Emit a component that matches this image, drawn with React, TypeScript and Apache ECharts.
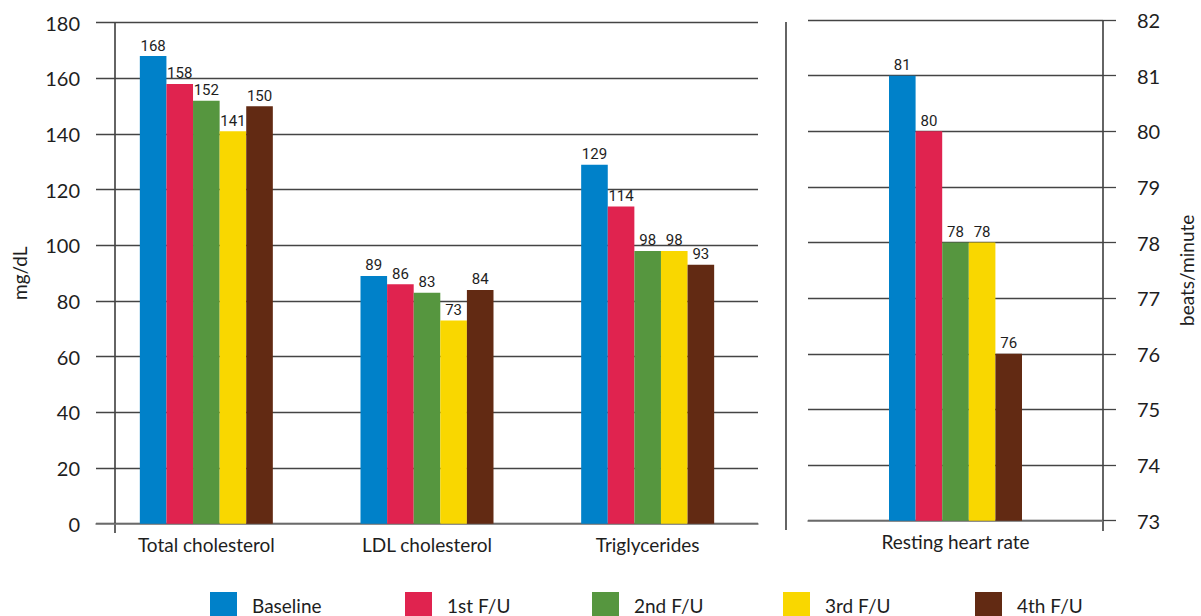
import React, { useEffect, useRef } from "react";
import * as echarts from "echarts";

const categories = ["Total cholesterol", "LDL cholesterol", "Triglycerides"];
const hrCategory = ["Resting heart rate"];
const seriesNames = ["Baseline", "1st F/U", "2nd F/U", "3rd F/U", "4th F/U"];
const baseline = [168, 89, 129];
const fu1 = [158, 86, 114];
const fu2 = [152, 83, 98];
const fu3 = [141, 73, 98];
const fu4 = [150, 84, 93];
const heartRate = [81, 80, 78, 78, 76];
const colors = ["#0081C9", "#E0234F", "#56963F", "#F9D700", "#622A13"];

const lipidValues = [baseline, fu1, fu2, fu3, fu4];

const MAIN_FONT = "Lato, 'Noto Sans', sans-serif";
const NARROW_FONT = "Roboto, Lato, sans-serif";
const GRID_COLOR = "#444";
const TEXT_COLOR = "#1e1e1e";

export default function App() {
  const ref = useRef<HTMLDivElement>(null);
  useEffect(() => {
    if (!ref.current) return;
    const chart = echarts.init(ref.current, undefined, { renderer: "svg" });
    const barLabel = {
      show: true,
      position: "top",
      distance: 3,
      fontSize: 15,
      fontFamily: NARROW_FONT,
      color: TEXT_COLOR,
    };
    const series: any[] = [];
    seriesNames.forEach((name, i) => {
      series.push({
        name,
        type: "bar",
        xAxisIndex: 0,
        yAxisIndex: 0,
        data: lipidValues[i],
        barWidth: 26.6,
        barGap: "0%",
        itemStyle: { color: colors[i] },
        label: barLabel,
      });
    });
    seriesNames.forEach((name, i) => {
      series.push({
        name,
        type: "bar",
        xAxisIndex: 1,
        yAxisIndex: 1,
        data: [heartRate[i]],
        barWidth: 26.6,
        barGap: "0%",
        itemStyle: { color: colors[i] },
        label: barLabel,
      });
    });
    const legendLefts = [210, 405, 592, 783, 975];
    const legends = seriesNames.map((name, i) => ({
      data: [name],
      left: legendLefts[i],
      top: 592,
      padding: 0,
      itemWidth: 27,
      itemHeight: 27,
      icon: "rect",
      selectedMode: false,
      textStyle: {
        fontSize: 19,
        fontFamily: MAIN_FONT,
        color: TEXT_COLOR,
        padding: [0, 0, 0, 10],
      },
    }));
    const vline = (x: number, y1: number, y2: number) => ({
      type: "line",
      shape: { x1: x, y1, x2: x, y2 },
      style: { stroke: "#111", lineWidth: 1.3 },
      silent: true,
    });
    chart.setOption({
      animation: false,
      backgroundColor: "#fff",
      grid: [
        { left: 96, right: 443, top: 22.7, bottom: 92.3, outerBoundsMode: "none", containLabel: false },
        { left: 808, right: 98, top: 20, bottom: 95.3, outerBoundsMode: "none", containLabel: false },
      ],
      xAxis: [
        {
          type: "category",
          gridIndex: 0,
          data: categories,
          axisLine: { show: true, lineStyle: { color: "#777", width: 1.5 } },
          axisTick: { show: false },
          axisLabel: { fontSize: 19, fontFamily: MAIN_FONT, color: TEXT_COLOR, margin: 11 },
        },
        {
          type: "category",
          gridIndex: 1,
          data: hrCategory,
          axisLine: { show: true, lineStyle: { color: "#777", width: 1.5 } },
          axisTick: { show: false },
          axisLabel: { fontSize: 19, fontFamily: MAIN_FONT, color: TEXT_COLOR, margin: 11 },
        },
      ],
      yAxis: [
        {
          type: "value",
          gridIndex: 0,
          min: 0,
          max: 180,
          interval: 20,
          name: "mg/dL",
          nameLocation: "middle",
          nameRotate: 90,
          nameGap: 67,
          nameTextStyle: { fontSize: 19, fontFamily: MAIN_FONT, color: TEXT_COLOR },
          axisLine: { show: false },
          axisTick: { show: false },
          splitLine: { show: true, lineStyle: { color: GRID_COLOR, width: 1.3 } },
          axisLabel: { fontSize: 20, fontFamily: MAIN_FONT, color: TEXT_COLOR, margin: 16 },
        },
        {
          type: "value",
          gridIndex: 1,
          position: "right",
          min: 73,
          max: 82,
          interval: 1,
          name: "beats/minute",
          nameLocation: "middle",
          nameRotate: 90,
          nameGap: 74,
          nameTextStyle: { fontSize: 19, fontFamily: MAIN_FONT, color: TEXT_COLOR },
          axisLine: { show: false },
          axisTick: { show: true, inside: false, length: 13, lineStyle: { color: GRID_COLOR, width: 1.3 } },
          splitLine: { show: true, lineStyle: { color: GRID_COLOR, width: 1.3 } },
          axisLabel: { fontSize: 20, fontFamily: MAIN_FONT, color: TEXT_COLOR, margin: 34 },
        },
      ],
      legend: legends,
      graphic: [vline(115, 22, 533), vline(786, 22, 530), vline(1103, 20, 531)],
      series,
    });
    return () => chart.dispose();
  }, []);
  return (
    <div
      ref={ref}
      style={{ position: "fixed", left: 0, top: 0, width: 1201, height: 616 }}
    />
  );
}
